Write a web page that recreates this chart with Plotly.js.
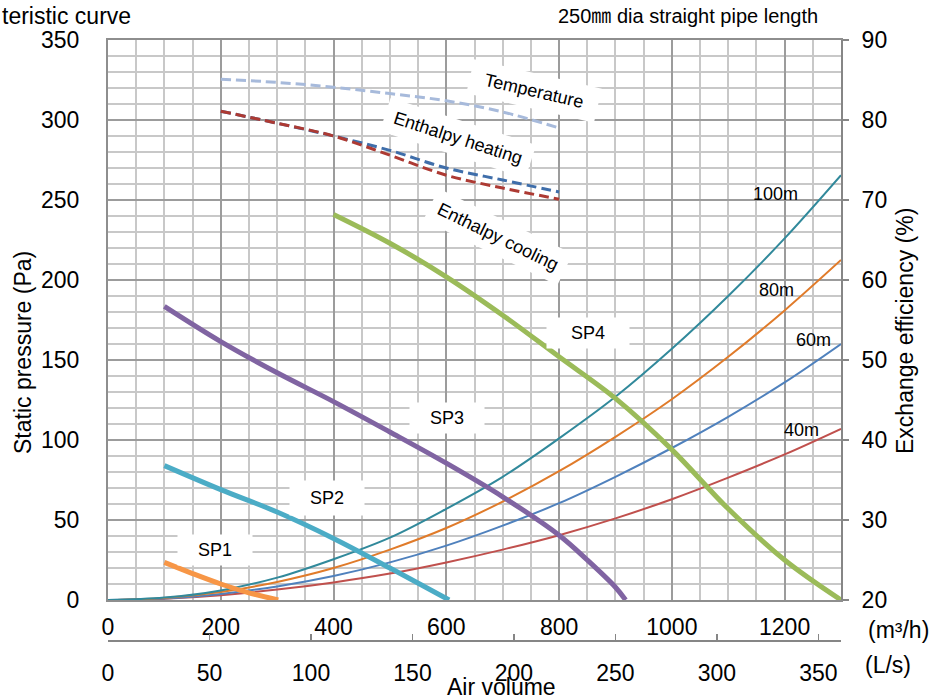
<!DOCTYPE html>
<html>
<head>
<meta charset="utf-8">
<script src="https://cdn.plot.ly/plotly-3.0.1.min.js"></script>
<style>html,body{margin:0;padding:0;background:#fff;}#chart{width:935px;height:700px;}</style>
</head>
<body>
<div id="chart"></div>
<script>
// ---- data ----
const sp1Q = [100, 150, 200, 250, 302];
const sp1P = [23.5, 16.5, 10, 4.5, 0];
const sp2Q = [100, 200, 300, 400, 500, 605];
const sp2P = [84, 69, 55, 38.5, 20, 0];
const sp3Q = [100, 200, 300, 400, 500, 600, 700, 800, 850, 900, 918];
const sp3P = [183.5, 161.5, 142, 124, 105, 85.5, 64.5, 40.5, 25, 8, 0];
const sp4Q = [400, 500, 600, 700, 800, 900, 1000, 1100, 1200, 1300];
const sp4P = [241, 223, 202, 178, 152, 126, 94, 57, 25, 0];

const pipeQ = [0, 100, 200, 300, 400, 500, 600, 700, 800, 900, 1000, 1100, 1200, 1300];
const pipe100 = [0, 1.5, 6, 14, 25.5, 39, 57, 77, 101, 127, 157, 190, 226, 265.5];
const pipe80 = [0, 1.3, 5, 11.3, 20, 31.5, 45, 61.5, 80.5, 102, 125.5, 152, 181, 212.5];
const pipe60 = [0, 0.9, 3.8, 8.5, 15, 23.5, 34, 46.5, 60.5, 77, 95, 114.5, 136, 160];
const pipe40 = [0, 0.8, 3, 6.5, 11, 16.5, 23.5, 31.5, 40.5, 51, 63, 76.5, 91, 107];

const effQ = [200, 300, 400, 500, 600, 700, 800];
const effTemperature = [85.1, 84.7, 84.1, 83.3, 82.4, 81.0, 79.0];
const effHeating = [81.1, 79.6, 78.0, 76.2, 74.0, 72.5, 71.0];
const effCooling = [81.1, 79.6, 78.0, 75.6, 73.1, 71.5, 70.1];

const leftTicks = [0, 50, 100, 150, 200, 250, 300, 350];
const rightTicks = [20, 30, 40, 50, 60, 70, 80, 90];
const m3hTicks = [0, 200, 400, 600, 800, 1000, 1200];
const lsTicks = [0, 50, 100, 150, 200, 250, 300, 350];

// ---- layout helpers (pixel -> paper) ----
const W = 935, H = 700;
const M = {l: 108, r: 94, t: 40, b: 59};
const PW = W - M.l - M.r, PH = H - M.t - M.b;
const px = x => (x - M.l) / PW;
const py = y => (H - M.b - y) / PH;
const FONT = 'Liberation Sans, Arial, Noto Sans CJK JP, sans-serif';

function line(x, y, color, width, extra) {
  return Object.assign({x: x, y: y, type: 'scatter', mode: 'lines',
    line: {color: color, width: width, shape: 'spline', smoothing: 1},
    hoverinfo: 'skip', showlegend: false}, extra || {});
}

const traces = [
  line(pipeQ, pipe40, '#C0504D', 2),
  line(pipeQ, pipe60, '#4F81BD', 2),
  line(pipeQ, pipe80, '#E07B2A', 2),
  line(pipeQ, pipe100, '#31899B', 2),
  line(sp1Q, sp1P, '#F79646', 5),
  line(sp2Q, sp2P, '#4BACC6', 5),
  line(sp3Q, sp3P, '#8064A2', 5),
  line(sp4Q, sp4P, '#9BBB59', 5),
  line(effQ, effTemperature, '#A7BADB', 3, {yaxis: 'y2'}),
  line(effQ, effHeating, '#3F6EAA', 3, {yaxis: 'y2'}),
  line(effQ, effCooling, '#AD3A33', 3, {yaxis: 'y2'}),
  {x: [0], y: [null], xaxis: 'x2', yaxis: 'y', type: 'scatter', mode: 'lines', showlegend: false, hoverinfo: 'skip'}
];
traces.slice(8, 11).forEach(t => { t.line.dash = '10px,5px'; });

const big = {family: FONT, size: 23, color: '#000'};
const mid = {family: FONT, size: 18, color: '#000'};

function boxLabel(text, x, y, w, h, angle) {
  return {text: text, x: x, y: y, xref: 'x', yref: 'y', showarrow: false,
    font: mid, bgcolor: '#fff', width: w, height: h, textangle: angle || 0,
    xanchor: 'center', yanchor: 'middle'};
}
function plainLabel(text, x, y) {
  return {text: text, x: x, y: y, xref: 'x', yref: 'y', showarrow: false,
    font: mid, xanchor: 'center', yanchor: 'middle'};
}
function paperText(text, x, y, font, opts) {
  return Object.assign({text: text, x: px(x), y: py(y), xref: 'paper', yref: 'paper',
    showarrow: false, font: font, xanchor: 'center', yanchor: 'middle'}, opts || {});
}

const annotations = [
  boxLabel('SP1', 190, 31, 72, 28),
  boxLabel('SP2', 388, 63.5, 72, 32),
  boxLabel('SP3', 601, 113.5, 72, 28),
  boxLabel('SP4', 852, 166.7, 80, 28),
  plainLabel('100m', 1183, 254),
  plainLabel('80m', 1185, 194),
  plainLabel('60m', 1251, 162.5),
  plainLabel('40m', 1230, 106),
  boxLabel('Temperature', 756, 318, 128, 32, 13),
  boxLabel('Enthalpy heating', 621, 288.7, 150, 32, 18),
  boxLabel('Enthalpy cooling', 692, 226.9, 146, 32, 26),
  paperText('teristic curve', 0, 16, {family: FONT, size: 23, color: '#000'}, {xanchor: 'left'}),
  paperText('250㎜ dia straight pipe length', 687.5, 16, {family: FONT, size: 20, color: '#000'}),
  paperText('Static pressure (Pa)', 23, 353, big, {textangle: -90}),
  paperText('Exchange efficiency (%)', 905, 331, big, {textangle: -90}),
  paperText('Air volume', 501, 687, big),
  paperText('(m³/h)', 898, 630, big),
  paperText('(L/s)', 888, 665, big)
];

const layout = {
  width: W, height: H,
  margin: M,
  paper_bgcolor: '#fff', plot_bgcolor: '#fff',
  showlegend: false,
  font: {family: FONT, size: 23, color: '#000'},
  xaxis: {
    range: [0, 1300], domain: [0, 1], anchor: 'y',
    tickmode: 'array', tickvals: m3hTicks, ticktext: m3hTicks.map(String),
    ticks: 'outside', ticklen: 5, tickcolor: 'rgba(0,0,0,0)',
    tickfont: big,
    showgrid: true, gridcolor: '#9C9C9C', gridwidth: 2,
    minor: {dtick: 50, showgrid: true, gridcolor: '#C8C8C8', gridwidth: 2},
    zeroline: false, showline: true, mirror: true, linecolor: '#8E8E8E', linewidth: 2
  },
  xaxis2: {
    range: [0, 1300 / 3.6], overlaying: 'x', anchor: 'free', position: 0, side: 'bottom',
    tickmode: 'array', tickvals: lsTicks, ticktext: lsTicks.map(String),
    ticks: 'inside', ticklen: 6, tickwidth: 1.5, tickcolor: '#868686',
    ticklabelstandoff: 11,
    tickfont: big, showgrid: false, zeroline: false,
    showline: true, linecolor: '#868686', linewidth: 2
  },
  yaxis: {
    range: [0, 350], domain: [py(600), 1], anchor: 'x',
    tickmode: 'array', tickvals: leftTicks, ticktext: leftTicks.map(String),
    ticks: 'outside', ticklen: 22, tickcolor: 'rgba(0,0,0,0)',
    tickfont: big,
    showgrid: true, gridcolor: '#9C9C9C', gridwidth: 2,
    minor: {dtick: 10, showgrid: true, gridcolor: '#C8C8C8', gridwidth: 2},
    zeroline: false, showline: true, linecolor: '#8E8E8E', linewidth: 2
  },
  yaxis2: {
    range: [20, 90], overlaying: 'y', anchor: 'x', side: 'right',
    tickmode: 'array', tickvals: rightTicks, ticktext: rightTicks.map(String),
    ticks: 'outside', ticklen: 6, tickwidth: 2, tickcolor: '#868686',
    ticklabelstandoff: 8,
    tickfont: big, showgrid: false, zeroline: false,
    showline: true, linecolor: '#868686', linewidth: 2
  },
  annotations: annotations
};

Plotly.newPlot('chart', traces, layout, {staticPlot: true, displayModeBar: false});
</script>
</body>
</html>
